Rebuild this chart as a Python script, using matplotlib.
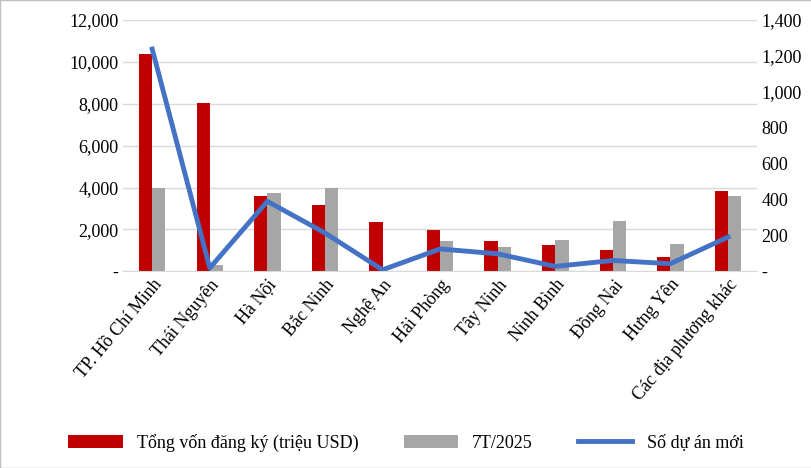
import matplotlib.pyplot as plt
import numpy as np
from matplotlib.ticker import FuncFormatter

plt.rcParams['font.family'] = ['Liberation Serif', 'DejaVu Serif']

categories = ["TP. Hồ Chí Minh", "Thái Nguyên", "Hà Nội", "Bắc Ninh", "Nghệ An",
              "Hải Phòng", "Tây Ninh", "Ninh Bình", "Đồng Nai", "Hưng Yên",
              "Các địa phương khác"]
tong_von = [10350, 8040, 3610, 3185, 2370, 1960, 1465, 1275, 1000, 700, 3850]
t7_2025 = [4000, 300, 3760, 4000, 0, 1465, 1180, 1510, 2420, 1320, 3610]
so_du_an = [1236, 19, 390, 214, 9, 125, 98, 28, 61, 43, 191]

fig = plt.figure(figsize=(8.12, 4.68), dpi=100)
ax = fig.add_axes([0.152, 0.42, 0.78, 0.538])
x = np.arange(len(categories))
w = 0.23
b1 = ax.bar(x - w / 2, tong_von, w, color="#c00000", label="Tổng vốn đăng ký (triệu USD)")
b2 = ax.bar(x + w / 2, t7_2025, w, color="#a6a6a6", label="7T/2025")
ax.set_ylim(0, 12000)
ax.set_yticks(range(0, 12001, 2000))
fmt = FuncFormatter(lambda v, p: "-" if v == 0 else f"{v:,.0f}")
ax.yaxis.set_major_formatter(fmt)
ax.grid(axis="y", color="#d9d9d9", linewidth=1)
ax.set_axisbelow(True)
for s in ["top", "right", "left"]:
    ax.spines[s].set_visible(False)
ax.spines["bottom"].set_color("#d9d9d9")
ax.tick_params(length=0, labelsize=13)
ax.set_xlim(-0.5, len(categories) - 0.5)
ax.set_xticks(x)
ax.set_xticklabels(categories, rotation=50, ha="right", rotation_mode="anchor", fontsize=13)

ax2 = ax.twinx()
l1, = ax2.plot(x, so_du_an, color="#4472c4", linewidth=3.5, label="Số dự án mới")
ax2.set_ylim(0, 1400)
ax2.set_yticks(range(0, 1401, 200))
ax2.yaxis.set_major_formatter(fmt)
for s in ax2.spines.values():
    s.set_visible(False)
ax2.tick_params(length=0, labelsize=13)

fig.legend(handles=[b1, b2, l1], loc="lower center", ncol=3, frameon=False,
           fontsize=13, bbox_to_anchor=(0.5, 0.0), columnspacing=2.5, handlelength=3)
fig.patches.append(plt.Rectangle((0, 0), 1, 1, transform=fig.transFigure,
                                 fill=False, edgecolor="#bfbfbf", linewidth=1))
fig.savefig("out.png")
